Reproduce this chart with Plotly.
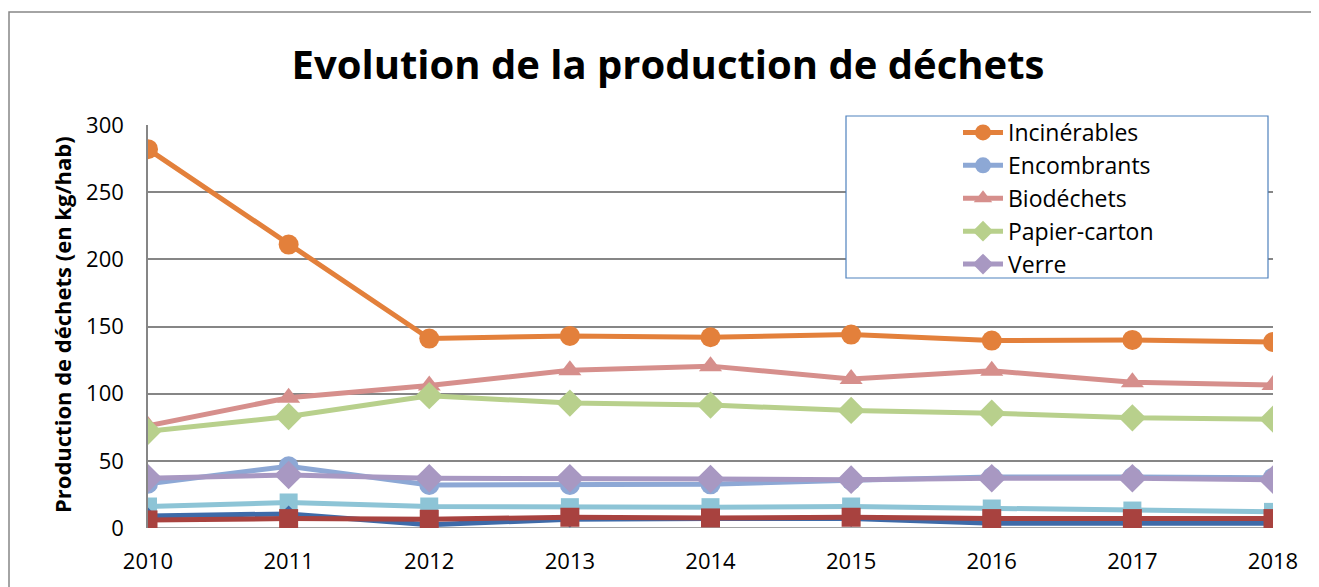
import plotly.graph_objects as go

years = [2010, 2011, 2012, 2013, 2014, 2015, 2016, 2017, 2018]

incinerables = [282, 211, 141, 143, 142, 144, 139.5, 140, 138.5]
encombrants = [33, 46, 32, 32, 32.5, 35.5, 38, 38, 37.5]
biodechets = [76, 97, 106, 117.5, 120.5, 111, 117, 108.5, 106.5]
papier_carton = [72, 83, 98.5, 93, 91.5, 87.5, 85.5, 82, 81]
verre = [37, 39.5, 37, 37, 36.5, 36, 37, 37, 36]
serie6 = [16, 19, 16, 15.5, 15.5, 16, 14.5, 13, 12]
serie7 = [9, 10.5, 2.5, 6.5, 7, 7, 3.5, 3.5, 3.5]
serie8 = [6, 7, 6.5, 8, 7.5, 8, 7, 7, 7]

series = [
    ("Incinérables", incinerables, "#E3803B", "circle", 20, True),
    ("Encombrants", encombrants, "#8DA8D5", "circle", 20, True),
    ("Biodéchets", biodechets, "#D68F8C", "triangle-up", 20, True),
    ("Papier-carton", papier_carton, "#B8D08C", "diamond", 21, True),
    ("Verre", verre, "#A898C2", "diamond", 22, True),
    ("Série 6", serie6, "#8DC4D6", "square", 18, False),
    ("Série 7", serie7, "#3E6AA8", "diamond", 13, False),
    ("Série 8", serie8, "#A8423F", "square", 19, False),
]

fig = go.Figure()
for name, vals, col, sym, size, show in series:
    fig.add_trace(go.Scatter(
        x=years, y=vals, name=name, mode="lines+markers",
        line=dict(color=col, width=5),
        marker=dict(symbol=sym, size=size, color=col, line=dict(width=0)),
        showlegend=show,
    ))

OFF = 8  # page body margin
W, H = 1319 - OFF, 587 - OFF
L, R, T, B = 148, 1273, 125, 528  # plot area in screenshot pixels
pw, ph = R - L, B - T

def px(x):
    return (x - L) / pw

def py(y):
    return (B - y) / ph

font_family = "'Open Sans', 'Noto Sans', sans-serif"

fig.update_layout(
    width=W, height=H,
    margin=dict(l=L - OFF, r=W - (R - OFF), t=T - OFF, b=H - (B - OFF), pad=0),
    paper_bgcolor="white", plot_bgcolor="white",
    font=dict(family=font_family, color="black", size=22),
    title=dict(text="<b>Evolution de la production de déchets</b>",
               x=(668 - OFF) / W, xanchor="center", xref="container",
               y=1 - (65 - OFF) / H, yanchor="middle", yref="container",
               font=dict(size=40, family=font_family, color="black")),
    xaxis=dict(range=[2010, 2018], tickvals=years, ticktext=[str(y) for y in years],
               showgrid=False, zeroline=False, showline=False,
               ticks="", tickfont=dict(size=22), ticklabelstandoff=18),
    yaxis=dict(range=[0, 300], dtick=50, showgrid=True, gridcolor="#868686",
               gridwidth=1.5, zeroline=False, showline=True, linecolor="#868686",
               linewidth=1.5, ticks="", tickfont=dict(size=22), ticklabelstandoff=18),
    legend=dict(x=px(958), y=py(111), xanchor="left", yanchor="top",
                bgcolor="rgba(0,0,0,0)", borderwidth=0,
                font=dict(size=23, family=font_family), tracegroupgap=0,
                itemwidth=40, traceorder="normal"),
    showlegend=True,
)

# x axis baseline
fig.add_shape(type="line", xref="paper", yref="y", x0=0, x1=1, y0=0, y1=0,
              line=dict(color="#868686", width=1.5), layer="below")
# legend box
fig.add_shape(type="rect", xref="paper", yref="paper",
              x0=px(846), x1=px(1268), y0=py(278), y1=py(116),
              line=dict(color="#4F81BD", width=1.2), fillcolor="white", layer="above")
# outer chart border
fig.add_shape(type="rect", xref="paper", yref="paper",
              x0=px(9), x1=px(1316), y0=py(640), y1=py(12),
              line=dict(color="#868686", width=1.5), fillcolor="rgba(0,0,0,0)", layer="above")

fig.add_annotation(text="<b>Production de déchets (en kg/hab)</b>", textangle=-90,
                   xref="paper", yref="paper", x=px(62), y=py(325),
                   xanchor="center", yanchor="middle", showarrow=False,
                   font=dict(size=22, family=font_family, color="black"))

fig.write_html("out.html")
